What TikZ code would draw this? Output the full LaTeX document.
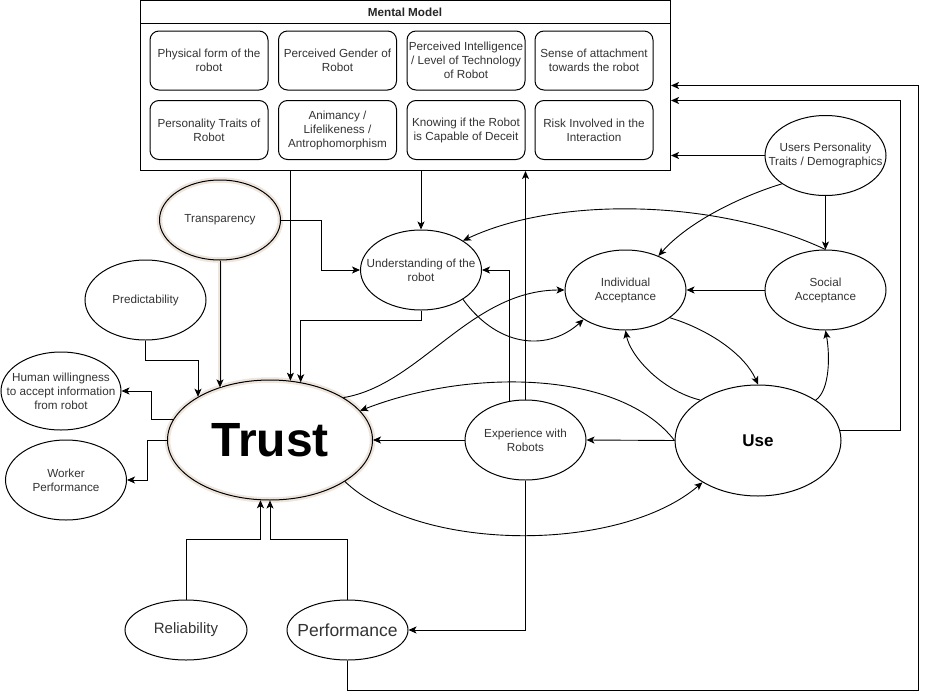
\documentclass[tikz,border=0pt]{standalone}
\usepackage{fontspec}
\setmainfont{Liberation Sans}
\usepackage{xcolor}
\usetikzlibrary{arrows.meta,positioning,shapes.geometric,calc}

\definecolor{glowc}{RGB}{238,229,220}
\definecolor{txtc}{RGB}{51,51,51}
\newcommand{\fsm}{\fontsize{11.7}{14}\selectfont}

\begin{document}
\begin{tikzpicture}[
  x=1pt, y=-1pt,
  every node/.style={font=\fsm, text=txtc},
  ell/.style={ellipse, draw, line width=1pt, minimum width=121pt, minimum height=80pt, inner sep=-16pt, align=center},
  mbox/.style={draw, line width=1pt, rounded corners=9pt, minimum width=118pt, minimum height=59pt, inner sep=1pt, align=center},
  glow/.style={preaction={draw=glowc, line width=5.5pt}},
  arr/.style={-{Stealth[length=8pt,width=7pt,inset=2pt]}, line width=0.9pt},
]
\useasboundingbox (0,0) rectangle (929,699);

%% ── Mental Model (top box) ───────────────────────────────────────────────
\node[draw, line width=1pt, minimum width=530pt, minimum height=170pt, inner sep=0, anchor=north west] (mm) at (140,0) {};
\node[font=\fsm\bfseries, text=black!85] (mmtitle) at (405,12) {Mental Model};
\draw[line width=1pt] ($(mm.north west)+(0,23)$) -- ($(mm.north east)+(0,23)$);

\foreach \i/\x/\y/\txt in {
  1/209/60.5/{Physical form of the\\robot},
  2/337.5/60.5/{Perceived Gender of\\Robot},
  3/466/60.5/{Perceived Intelligence\\/ Level of Technology\\of Robot},
  4/594/60.5/{Sense of attachment\\towards the robot},
  5/209/130/{Personality Traits of\\Robot},
  6/337.5/130/{Animancy /\\Lifelikeness /\\Antrophomorphism},
  7/466/130/{Knowing if the Robot\\is Capable of Deceit},
  8/594/130/{Risk Involved in the\\Interaction}} {
  \node[mbox] (mb\i) at (\x,\y) {\txt};
}

%% ── factors ──────────────────────────────────────────────────────────────
\node[ell, glow] (trans) at (220,220) {Transparency};
\node[ell] (under) at (421,270) {Understanding of the\\robot};
\node[ell] (pred) at (145.5,300) {Predictability};
\node[ell, minimum width=120pt, minimum height=78pt] (human) at (61,391) {Human willingness\\to accept information\\from robot};
\node[ell] (worker) at (66,480) {Worker\\Performance};
\node[ell, glow, minimum width=205pt, minimum height=120pt, font=\fontsize{48}{50}\selectfont\bfseries, text=black] (trust) at (270,440) {Trust};

\node[ell] (users) at (825.5,155.5) {Users Personality\\Traits / Demographics};
\node[ell] (indiv) at (625.5,290) {Individual\\Acceptance};
\node[ell] (social) at (825.5,290) {Social\\Acceptance};
\node[ell] (exp) at (525.5,440) {Experience with\\Robots};
\node[ell, minimum width=166pt, minimum height=111pt, font=\fontsize{17}{19}\selectfont\bfseries, text=black] (use) at (758,440.5) {Use};

\node[ell, minimum width=122pt, minimum height=60pt, font=\fontsize{15}{17}\selectfont] (rel) at (186,630) {Reliability};
\node[ell, minimum height=60pt, font=\fontsize{17.5}{19}\selectfont] (perf) at (347.5,630) {Performance};

%% ── into Trust ───────────────────────────────────────────────────────────
\draw[glowc, line width=4.5pt] (trans.south) -- (trans.south |- trust.134);
\draw[arr] (trans.south) -- (trans.south |- trust.134);
\draw[arr] (trust.71 |- mm.south) -- (trust.71);
\draw[arr] (under.south) -- ++(0,10) -| (trust.62);
\draw[arr] (pred.south) -- ++(0,20) -| (trust.149);
\draw[arr] (rel.north) -- ++(0,-60) -| (trust.-99);
\draw[arr] (perf.north) -- ++(0,-60) -| (trust.south);
\draw[arr] (exp.west) -- (trust.east);
\draw[arr] (use.west) .. controls (620,370) and (470,368) .. (trust.18);

%% out of Trust
\draw[arr] (trust.168) -- ++(-22,0) |- (human.east);
\draw[arr] (trust.west) -- ++(-20,0) |- (worker.east);
\draw[arr] (trust.30) .. controls (420,385) and (470,290) .. (indiv.west);
\draw[arr] (trust.-29) .. controls (420,553) and (620,553) .. (use.-143);

%% ── understanding ────────────────────────────────────────────────────────
\draw[arr] (under.north |- mm.south) -- (under.north);
\draw[arr] (trans.east) -- ++(40,0) |- (under.west);
\draw[arr] (exp.112) |- (under.east);
\draw[arr] (social.north) .. controls (720,200) and (560,195) .. (under.35);
\draw[arr] (under.-35) .. controls (500,350) and (550,350) .. (indiv.-145);

%% ── acceptance and use ───────────────────────────────────────────────────
\draw[arr] (users.west) -- (users.west -| mm.east);
\draw[arr] (users.south) -- (social.north);
\draw[arr] (users.213) .. controls (745,195) and (690,220) .. (indiv.46);
\draw[arr] (social.west) -- (indiv.east);
\draw[arr] (indiv.-32) .. controls (710,330) and (745,355) .. (use.north);
\draw[arr] (use.145) .. controls (660,390) and (630,355) .. (indiv.south);
\draw[arr] (use.35) .. controls (830,390) and (830,355) .. (social.south);
\draw[arr] (use.west) -- (exp.east);

%% feedback to the mental model
\draw[arr] (exp.north) -- (exp.north |- mm.south);
\draw[arr] (exp.south) |- (perf.east);
\draw[arr] (use.7) -- ++(60,0) |- ($(mm.east)+(0,15)$);
\draw[arr] (perf.south) -- ++(0,30) -- ++(571,0) |- (mm.east);

\end{tikzpicture}
\end{document}
